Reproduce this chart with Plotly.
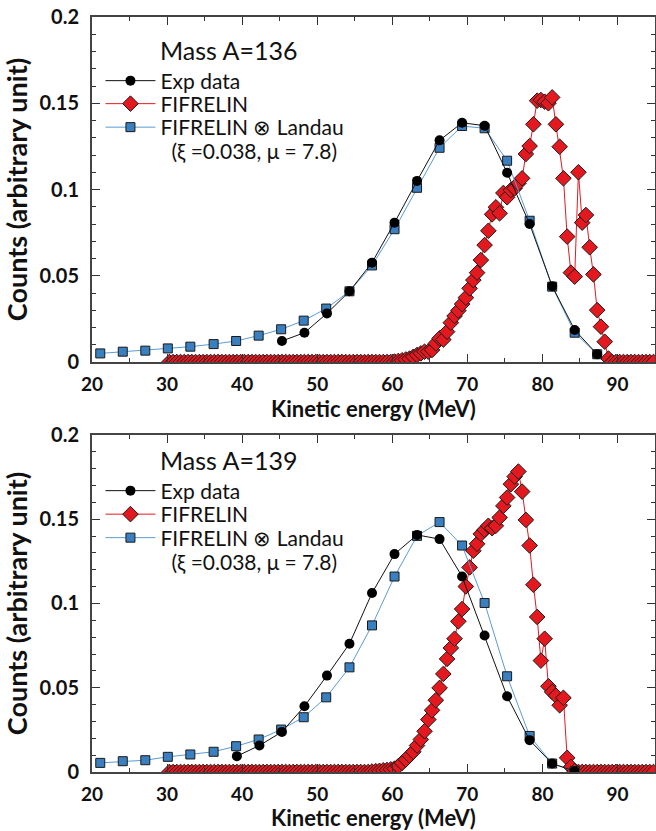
import plotly.graph_objects as go

# ---------------- data: Mass A=136 ----------------
exp136_E = [45.3, 48.3, 51.3, 54.3, 57.3, 60.3, 63.3, 66.3, 69.3, 72.3, 75.3, 78.3, 81.3, 84.3, 87.3]
exp136_y = [0.0122, 0.017, 0.0282, 0.041, 0.0576, 0.0808, 0.105, 0.1285, 0.1387, 0.137,
            0.1097, 0.080, 0.044, 0.0186, 0.0045]

lan136_E = [21.1, 24.1, 27.1, 30.1, 33.1, 36.2, 39.2, 42.2, 45.2, 48.2, 51.2, 54.3,
            57.3, 60.3, 63.3, 66.3, 69.3, 72.3, 75.3, 78.3, 81.3, 84.3, 87.3]
lan136_y = [0.005, 0.006, 0.0066, 0.0079, 0.0089, 0.0104, 0.0122, 0.0153, 0.019, 0.024,
            0.031, 0.041, 0.056, 0.077, 0.101, 0.1242, 0.1368, 0.1355, 0.1167, 0.0819,
            0.0437, 0.017, 0.0045]

fif_E = [30.3, 30.8, 31.3, 31.8, 32.3, 32.8, 33.3, 33.8, 34.3, 34.8,
         35.3, 35.8, 36.3, 36.8, 37.3, 37.8, 38.3, 38.8, 39.3, 39.8,
         40.3, 40.8, 41.3, 41.8, 42.3, 42.8, 43.3, 43.8, 44.3, 44.8,
         45.3, 45.8, 46.3, 46.8, 47.3, 47.8, 48.3, 48.8, 49.3, 49.8,
         50.3, 50.8, 51.3, 51.8, 52.3, 52.8, 53.3, 53.8, 54.3, 54.8,
         55.3, 55.8, 56.3, 56.8, 57.3, 57.8, 58.3, 58.8, 59.3, 59.8,
         60.3, 60.8, 61.3, 61.8, 62.3, 62.8, 63.3, 63.8, 64.3, 64.8,
         65.3, 65.8, 66.3, 66.8, 67.3, 67.8, 68.3, 68.8, 69.3, 69.8,
         70.3, 70.8, 71.3, 71.8, 72.3, 72.8, 73.3, 73.8, 74.3, 74.8,
         75.3, 75.8, 76.3, 76.8, 77.3, 77.8, 78.3, 78.8, 79.3, 79.8,
         80.3, 80.8, 81.3, 81.8, 82.3, 82.8, 83.3, 83.8, 84.3, 84.8,
         85.3, 85.8, 86.3, 86.8, 87.3, 87.8, 88.3, 88.8, 89.3, 89.8,
         90.3, 90.8, 91.3, 91.8, 92.3, 92.8, 93.3, 93.8, 94.3, 94.8]

fif136_y = [0, 0, 0, 0, 0, 0, 0, 0, 0, 0,
            0, 0, 0, 0, 0, 0, 0, 0, 0, 0,
            0, 0, 0, 0, 0, 0, 0, 0, 0, 0,
            0, 0, 0, 0, 0, 0, 0, 0, 0, 0,
            0, 0, 0, 0, 0, 0, 0, 0, 0, 0,
            0, 0, 0, 0, 0, 0, 0, 0, 0, 0,
            0.0003, 0.0006, 0.001, 0.0015, 0.002, 0.003, 0.0041, 0.005, 0.006, 0.006,
            0.007, 0.0108, 0.0137, 0.013, 0.0176, 0.0228, 0.0267, 0.0298, 0.0336, 0.0373,
            0.0427, 0.0475, 0.0518, 0.0591, 0.0678, 0.0761, 0.0856, 0.0897, 0.0862, 0.098,
            0.0955, 0.0997, 0.1007, 0.1036, 0.1065, 0.1206, 0.1252, 0.1378, 0.1515, 0.1519,
            0.1509, 0.150, 0.1534, 0.1378, 0.1248, 0.1065, 0.0727, 0.0518, 0.0495, 0.110,
            0.0808, 0.0852, 0.0665, 0.0508, 0.0301, 0.0205, 0.0118, 0.002, 0, 0,
            0, 0, 0, 0, 0, 0, 0, 0, 0, 0]

# ---------------- data: Mass A=139 ----------------
exp139_E = [39.3, 42.3, 45.3, 48.3, 51.3, 54.3, 57.3, 60.3, 63.3, 66.3, 69.3, 72.3, 75.3, 78.3, 81.3, 84.3]
exp139_y = [0.0094, 0.0157, 0.0238, 0.039, 0.0572, 0.0761, 0.1062, 0.1293, 0.1407, 0.1382,
            0.116, 0.081, 0.0449, 0.0189, 0.005, 0.0005]

lan139_E = [21.1, 24.1, 27.1, 30.1, 33.1, 36.2, 39.2, 42.2, 45.2, 48.2, 51.2, 54.3,
            57.3, 60.3, 63.3, 66.3, 69.3, 72.3, 75.3, 78.3, 81.3, 84.3]
lan139_y = [0.0054, 0.0064, 0.007, 0.009, 0.0104, 0.012, 0.0153, 0.0193, 0.0252, 0.0325,
            0.0443, 0.0621, 0.087, 0.116, 0.1401, 0.1483, 0.1344, 0.1003, 0.0568, 0.0214,
            0.005, 0.0005]

fif139_y = [0, 0, 0, 0, 0, 0, 0, 0, 0, 0,
            0, 0, 0, 0, 0, 0, 0, 0, 0, 0,
            0, 0, 0, 0, 0, 0, 0, 0, 0, 0,
            0, 0, 0, 0, 0, 0, 0, 0, 0, 0,
            0, 0, 0, 0, 0, 0, 0, 0, 0, 0,
            0, 0, 0, 0, 0.0003, 0.0005, 0.0007, 0.001, 0.0012, 0.0016,
            0.002, 0.0034, 0.0054, 0.0074, 0.0098, 0.012, 0.0157, 0.0193, 0.0242, 0.0311,
            0.0366, 0.0426, 0.0499, 0.0582, 0.0671, 0.0736, 0.0791, 0.0894, 0.0967, 0.1101,
            0.1214, 0.1313, 0.1354, 0.1413, 0.1437, 0.1461, 0.1447, 0.1461, 0.151, 0.1579,
            0.1629, 0.1708, 0.1753, 0.1783, 0.1664, 0.1496, 0.1344, 0.1111, 0.092, 0.0661,
            0.0791, 0.0509, 0.0475, 0.0453, 0.0396, 0.044, 0.0084, 0.003, 0.0005, 0,
            0, 0, 0, 0, 0, 0, 0, 0, 0, 0,
            0, 0, 0, 0, 0, 0, 0, 0, 0, 0]

x_ticks = [20, 30, 40, 50, 60, 70, 80, 90]
y_ticks = [0, 0.05, 0.1, 0.15, 0.2]
y_ticklabels = ["0", "0.05", "0.1", "0.15", "0.2"]

names = ["Exp data", "FIFRELIN", "FIFRELIN ⊗ Landau"]
landau_params = " (ξ =0.038, μ = 7.8)"
titles = ["Mass A=136", "Mass A=139"]

RED = "#e3191f"
BLUE = "#3a7fc0"
BLUE_LINE = "#5b9bd5"
FONT = "Lato"

W, H = 656, 831
ML, MR, MT, MB = 92, 1, 17, 59
PLOT_BOTTOM_PX = H - MB
PLOT_H = H - MT - MB


def paper_y(py):
    return (PLOT_BOTTOM_PX - py) / PLOT_H


fig = go.Figure()

legend_rows = [[81, 104, 127.5], [491, 514.5, 538]]
param_rows = [151, 561.5]
title_rows = [50, 460]

panels = [
    ("x", "y", exp136_E, exp136_y, lan136_E, lan136_y, fif136_y),
    ("x2", "y2", exp139_E, exp139_y, lan139_E, lan139_y, fif139_y),
]

legend_layout = {}
lg_idx = 1
for p, (xa, ya, eE, ey, lE, ly, fy) in enumerate(panels):
    lgs = []
    for r in range(3):
        key = "legend" if lg_idx == 1 else f"legend{lg_idx}"
        lgs.append(key)
        legend_layout[key] = dict(
            font=dict(family=FONT, size=21, color="#111111"),
            bgcolor="rgba(0,0,0,0)", borderwidth=0, itemwidth=50,
            xanchor="left", yanchor="middle", xref="paper", yref="paper",
            x=0.015, y=paper_y(legend_rows[p][r]),
            itemclick=False, itemdoubleclick=False,
        )
        lg_idx += 1
    fig.add_trace(go.Scatter(
        x=fif_E, y=fy, mode="lines+markers", name=names[1], xaxis=xa, yaxis=ya,
        legend=lgs[1],
        line=dict(color=RED, width=1),
        marker=dict(symbol="diamond", size=12, color=RED, line=dict(color="#1a1a1a", width=1)),
    ))
    fig.add_trace(go.Scatter(
        x=lE, y=ly, mode="lines+markers", name=names[2], xaxis=xa, yaxis=ya,
        legend=lgs[2],
        line=dict(color=BLUE_LINE, width=1),
        marker=dict(symbol="square", size=9, color=BLUE, line=dict(color="#1a1a1a", width=1)),
    ))
    fig.add_trace(go.Scatter(
        x=eE, y=ey, mode="lines+markers", name=names[0], xaxis=xa, yaxis=ya,
        legend=lgs[0],
        line=dict(color="#111111", width=1),
        marker=dict(symbol="circle", size=10, color="#000000"),
    ))
    fig.add_annotation(text=titles[p], xref="paper", yref="paper",
                       x=0.117, y=paper_y(title_rows[p]),
                       xanchor="left", yanchor="middle", showarrow=False,
                       font=dict(family=FONT, size=25, color="#111111"))
    fig.add_annotation(text=landau_params, xref="paper", yref="paper",
                       x=0.127, y=paper_y(param_rows[p]),
                       xanchor="left", yanchor="middle", showarrow=False,
                       font=dict(family=FONT, size=21, color="#111111"))

axis_common = dict(
    showline=True, linecolor="#444444", linewidth=2, mirror="allticks",
    ticks="inside", ticklen=8, tickwidth=1, tickcolor="#333333",
    showgrid=False, zeroline=False, automargin=False, ticklabeloverflow="allow",
    tickfont=dict(family=FONT, size=20, color="#111111", weight="bold"),
)

xaxis_cfg = dict(axis_common, range=[20, 95], tickvals=x_ticks,
                 tickfont=dict(family=FONT, size=19, color="#111111", weight="bold"),
                 minor=dict(dtick=5, tick0=20, ticks="inside", ticklen=4, tickcolor="#333333"),
                 ticklabelstandoff=4,
                 title=dict(text="Kinetic energy (MeV)", standoff=4,
                            font=dict(family=FONT, size=22, color="#111111", weight="bold")))
yaxis_cfg = dict(axis_common, range=[0, 0.2], tickvals=y_ticks, ticktext=y_ticklabels,
                 minor=dict(dtick=0.01, tick0=0, ticks="inside", ticklen=4, tickcolor="#333333"),
                 ticklabelstandoff=7,
                 title=dict(text="Counts (arbitrary unit)", standoff=4,
                            font=dict(family=FONT, size=27, color="#111111", weight="bold")))

fig.update_layout(
    width=W, height=H,
    margin=dict(l=ML, r=MR, t=MT, b=MB, autoexpand=False),
    paper_bgcolor="white", plot_bgcolor="white",
    showlegend=True,
    xaxis=dict(xaxis_cfg, domain=[0, 1], anchor="y"),
    yaxis=dict(yaxis_cfg, domain=[0.543, 1], anchor="x"),
    xaxis2=dict(xaxis_cfg, domain=[0, 1], anchor="y2"),
    yaxis2=dict(yaxis_cfg, domain=[0, 0.4464], anchor="x2"),
    font=dict(family=FONT),
    **legend_layout,
)

# remove the browser's default 8px page margin so the figure fills the window exactly
fig.write_html("out.html", config={"displayModeBar": False},
               post_script="document.body.style.margin='0';")
